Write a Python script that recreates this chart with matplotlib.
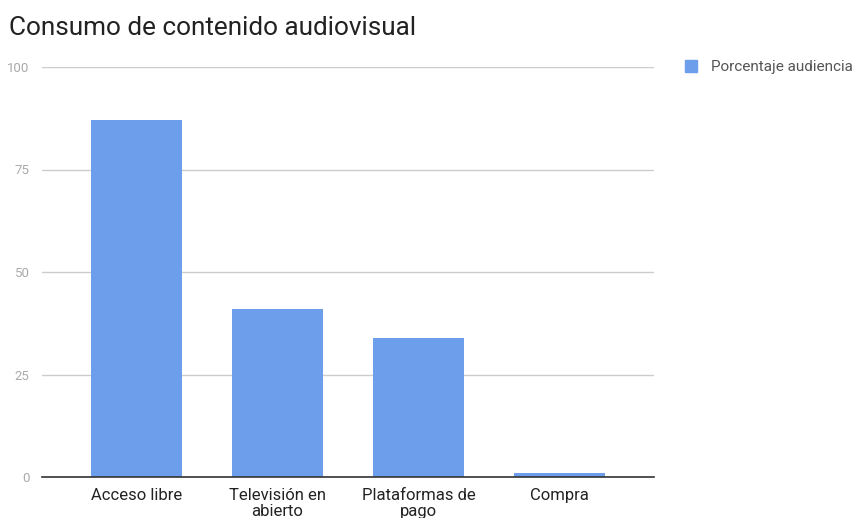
import matplotlib
matplotlib.use("Agg")
import matplotlib.pyplot as plt
from matplotlib.patches import Patch

plt.rcParams['font.family'] = ['Roboto', 'DejaVu Sans']

categories = ["Acceso libre", "Televisión en\nabierto", "Plataformas de\npago", "Compra"]
values = [87, 41, 34, 1]
yticks = [0, 25, 50, 75, 100]
series_name = "Porcentaje audiencia"
title = "Consumo de contenido audiovisual"

bar_color = "#6d9eeb"

fig = plt.figure(figsize=(8.64, 5.18), dpi=100)
ax = fig.add_axes([42/864, 41/518, 612/864, 410/518])

x = list(range(len(categories)))
ax.bar(x, values, width=0.645, color=bar_color, zorder=3)

ax.set_ylim(0, 100)
ax.set_xlim(-0.67, len(categories) - 1 + 0.67)
ax.set_yticks(yticks)
ax.set_yticklabels([str(t) for t in yticks], color="#aaaaaa", fontsize=9.5)
ax.set_xticks(x)
ax.set_xticklabels(categories, color="#222222", fontsize=12, linespacing=1.1)
ax.tick_params(axis="both", length=0)
ax.tick_params(axis="y", pad=9)
ax.tick_params(axis="x", pad=8)

ax.grid(axis="y", color="#cccccc", linewidth=1, zorder=0)
for s in ["top", "right", "left"]:
    ax.spines[s].set_visible(False)
ax.spines["bottom"].set_color("#333333")
ax.spines["bottom"].set_linewidth(1.2)
ax.spines["bottom"].set_zorder(4)

fig.text(9/864, 1 - 28/518, title, fontsize=18.8, color="#222222", va="center", ha="left")

handle = Patch(facecolor=bar_color, edgecolor=bar_color)
fig.legend([handle], [series_name], loc="center left",
           bbox_to_anchor=(671/864, 1 - 67/518), frameon=False,
           fontsize=11, labelcolor="#555555", handlelength=0.8, handleheight=0.8,
           handletextpad=0.9)

fig.savefig("out.png", dpi=100, facecolor="white")
